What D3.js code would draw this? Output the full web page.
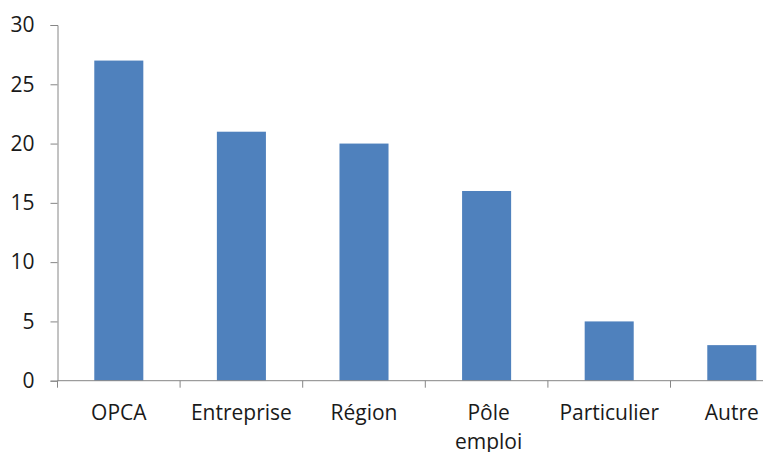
<!DOCTYPE html>
<html><head><meta charset="utf-8">
<script src="https://cdn.jsdelivr.net/npm/d3@7"></script>
<style>body{margin:0;background:#fff;overflow:hidden}svg{display:block}</style>
</head><body>
<script>
const categories = ["OPCA", "Entreprise", "Région", "Pôle emploi", "Particulier", "Autre"];
const values = [27, 21, 20, 16, 5, 3];
const yTicks = [0, 5, 10, 15, 20, 25, 30];

(function () {
const W = 763, H = 452;
const x0 = 57.5, bandW = 122.6, plotTop = 25, plotBottom = 380.7;
const svg = d3.select("body").append("svg").attr("width", W).attr("height", H);
const x = d3.scaleBand().domain(categories).range([x0, x0 + bandW * categories.length]).paddingInner(0.6).paddingOuter(0.3);
const y = d3.scaleLinear().domain([0, 30]).range([plotBottom, plotTop]);
const axisColor = "#868686";
const textColor = "#1a1a1a";
const font = "'Open Sans', sans-serif";

svg.append("g").selectAll("rect").data(values).join("rect")
  .attr("x", (d, i) => x(categories[i]))
  .attr("width", x.bandwidth())
  .attr("y", d => y(d))
  .attr("height", d => y(0) - y(d))
  .attr("fill", "#4F81BD");

// y axis
const ya = svg.append("g").attr("transform", `translate(${x0},0)`)
  .call(d3.axisLeft(y).tickValues(yTicks).tickSize(7).tickPadding(16).tickFormat(d3.format("d")));
ya.select(".domain").attr("stroke", axisColor);
ya.selectAll(".tick line").attr("stroke", axisColor);
ya.selectAll("text").attr("font-family", font).attr("font-size", 21).attr("fill", textColor);

// x axis
const boundaries = d3.range(categories.length + 1).map(i => x0 + i * bandW);
svg.append("line").attr("x1", x0).attr("x2", x0 + bandW * categories.length)
  .attr("y1", plotBottom).attr("y2", plotBottom).attr("stroke", axisColor);
svg.append("g").selectAll("line").data(boundaries).join("line")
  .attr("x1", d => d).attr("x2", d => d).attr("y1", plotBottom).attr("y2", plotBottom + 7)
  .attr("stroke", axisColor);

const labels = svg.append("g").attr("font-family", font).attr("font-size", 21).attr("fill", textColor).attr("text-anchor", "middle");
categories.forEach(c => {
  const cx = x(c) + x.bandwidth() / 2 + (c === "Pôle emploi" ? 2 : 0);
  const parts = c === "Pôle emploi" ? ["Pôle", "emploi"] : [c];
  const t = labels.append("text").attr("x", cx).attr("y", 420);
  parts.forEach((p, j) => t.append("tspan").attr("x", cx).attr("dy", j === 0 ? 0 : 29).text(p));
});
})();
</script>
</body></html>
